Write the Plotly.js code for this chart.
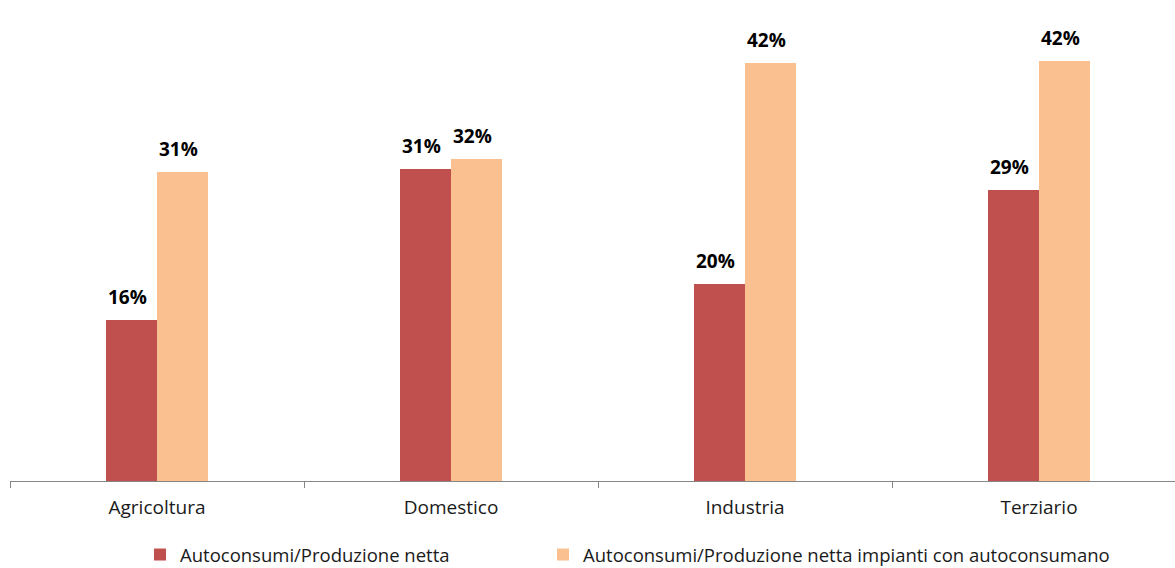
<!DOCTYPE html>
<html><head><meta charset="utf-8">
<script src="https://cdn.plot.ly/plotly-3.0.1.min.js"></script>
<style>html,body{margin:0;padding:0;background:#fff}#chart{width:1175px;height:568px}</style>
</head><body><div id="chart"></div>
<script>
const categories = ["Agricoltura", "Domestico", "Industria", "Terziario"];
const seriesNames = ["Autoconsumi/Produzione netta", "Autoconsumi/Produzione netta impianti con autoconsumano"];
const autoconsumiNetta = [16.1, 31.2, 19.7, 29.1];
const autoconsumiImpianti = [30.9, 32.2, 41.8, 42.0];
const labelsNetta = ["16%", "31%", "20%", "29%"];
const labelsImpianti = ["31%", "32%", "42%", "42%"];

const colors = ["#C0504D", "#FAC090"];
const font = "'Open Sans', 'Noto Sans', sans-serif";

const traces = [
  {type: "bar", name: seriesNames[0], x: categories, y: autoconsumiNetta, marker: {color: colors[0]}, hoverinfo: "none", legend: "legend"},
  {type: "bar", name: seriesNames[1], x: categories, y: autoconsumiImpianti, marker: {color: colors[1]}, hoverinfo: "none", legend: "legend2"}
];

const annotations = [];
categories.forEach((c, i) => {
  annotations.push({x: c, y: autoconsumiNetta[i], text: labelsNetta[i], showarrow: false, xshift: -30, yshift: 23, yanchor: "middle", font: {family: font, size: 19, color: "#000", weight: "bold"}, xref: "x", yref: "y"});
  annotations.push({x: c, y: autoconsumiImpianti[i], text: labelsImpianti[i], showarrow: false, xshift: 21, yshift: 23, yanchor: "middle", font: {family: font, size: 19, color: "#000", weight: "bold"}, xref: "x", yref: "y"});
});

const legendFont = {family: font, size: 18.5, color: "#1a1a1a"};
const layout = {
  width: 1175, height: 568,
  margin: {l: 10, r: 0, t: 10, b: 87, autoexpand: false},
  paper_bgcolor: "#fff", plot_bgcolor: "#fff",
  barmode: "group", bargap: 0.653, bargroupgap: 0,
  font: {family: font, size: 19, color: "#1a1a1a"},
  xaxis: {
    type: "category", range: [-0.5, 3.4626],
    showline: true, linecolor: "#868686", linewidth: 1,
    ticks: "outside", tickson: "boundaries", ticklen: 6, tickcolor: "#868686",
    tickfont: {family: font, size: 19, color: "#1a1a1a"}, ticklabelstandoff: 9,
    showgrid: false, zeroline: false, fixedrange: true, automargin: false
  },
  yaxis: {range: [0, 47.1], visible: false, showgrid: false, zeroline: false, fixedrange: true},
  showlegend: true,
  legend: {orientation: "h", xref: "container", yref: "container", x: 140/1175, xanchor: "left", y: 1 - 555/568, yanchor: "middle",
    font: legendFont, itemclick: false, itemdoubleclick: false},
  legend2: {orientation: "h", xref: "container", yref: "container", x: 543/1175, xanchor: "left", y: 1 - 555/568, yanchor: "middle",
    font: legendFont, itemclick: false, itemdoubleclick: false},
  annotations: annotations
};

Plotly.newPlot("chart", traces, layout, {staticPlot: true, displayModeBar: false});
</script></body></html>
